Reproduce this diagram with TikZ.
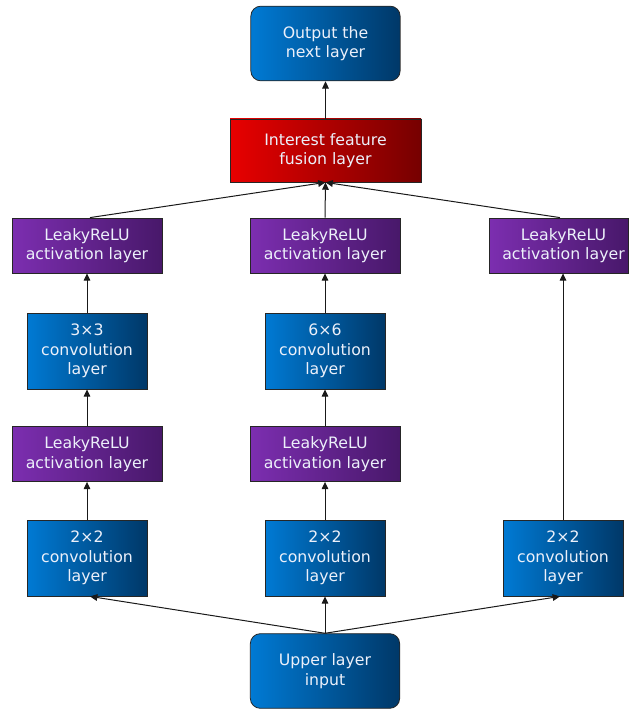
\documentclass[tikz,border=0pt]{standalone}
\usepackage{fontspec}
\setmainfont{DejaVu Sans}
\usetikzlibrary{arrows.meta}
\definecolor{bL}{RGB}{0,122,212}
\definecolor{bR}{RGB}{0,56,104}
\definecolor{pL}{RGB}{124,46,176}
\definecolor{pR}{RGB}{72,24,106}
\definecolor{rL}{RGB}{232,0,0}
\definecolor{rR}{RGB}{118,0,0}
\definecolor{txt}{RGB}{236,240,250}
\tikzset{
  box/.style={draw=black!85, line width=0.6pt, text=txt, align=center, inner sep=0pt,
    font=\fontsize{11.8}{14.6}\selectfont},
  bluebox/.style={box, left color=bL, right color=bR},
  purplebox/.style={box, left color=pL, right color=pR, minimum width=112.5pt, minimum height=41.25pt},
  redbox/.style={box, left color=rL, right color=rR, minimum width=143.25pt, minimum height=47.25pt},
  convbox/.style={bluebox, minimum width=90pt, minimum height=57pt},
  endbox/.style={bluebox, rounded corners=7.5pt, minimum width=112pt, minimum height=56pt},
  arr/.style={draw=black!90, line width=0.75pt, -{Triangle[width=5pt,length=5.5pt]}}
}
\begin{document}
\begin{tikzpicture}[x=0.75pt,y=-0.75pt]
\useasboundingbox (0,0) rectangle (629,709);
\node[endbox] (out) at (325.5,43.5) {Output the\\next layer};
\node[redbox] (fus) at (325.5,150.5) {Interest feature\\fusion layer};
\node[purplebox] (lA) at (87,245.5) {LeakyReLU\\activation layer};
\node[purplebox] (lB) at (325,245.5) {LeakyReLU\\activation layer};
\node[purplebox, minimum width=104.25pt] (lC) at (558.5,245.5) {\hspace*{7.5pt}LeakyReLU\\\hspace*{7.5pt}activation layer};
\node[convbox] (cA) at (87,351) {3×3\\convolution\\layer};
\node[convbox] (cB) at (325,351) {6×6\\convolution\\layer};
\node[purplebox] (mA) at (87,454) {LeakyReLU\\activation layer};
\node[purplebox] (mB) at (325,454) {LeakyReLU\\activation layer};
\node[convbox] (dA) at (87,558) {2×2\\convolution\\layer};
\node[convbox] (dB) at (325,558) {2×2\\convolution\\layer};
\node[convbox] (dC) at (563,558) {2×2\\convolution\\layer};
\node[endbox] (in) at (325,671) {Upper layer\\input};
\draw[arr] (fus.north) -- (out.south);
\draw[arr] ([xshift=2.25pt]lA.north) -- (fus.south);
\draw[arr] (lB.north) -- (fus.south);
\draw[arr] ([xshift=1.1pt]lC.north) -- (fus.south);
\draw[arr] (cA.north) -- (lA.south);
\draw[arr] (cB.north) -- (lB.south);
\draw[arr] (mA.north) -- (cA.south);
\draw[arr] (mB.north) -- (cB.south);
\draw[arr] (dA.north) -- (mA.south);
\draw[arr] (dB.north) -- (mB.south);
\draw[arr] (dC.north) -- (dC.north |- lC.south);
\draw[arr] (in.north) -- ([xshift=2.25pt]dA.south);
\draw[arr] (in.north) -- (dB.south);
\draw[arr] (in.north) -- ([xshift=-2.25pt]dC.south);
\end{tikzpicture}
\end{document}
